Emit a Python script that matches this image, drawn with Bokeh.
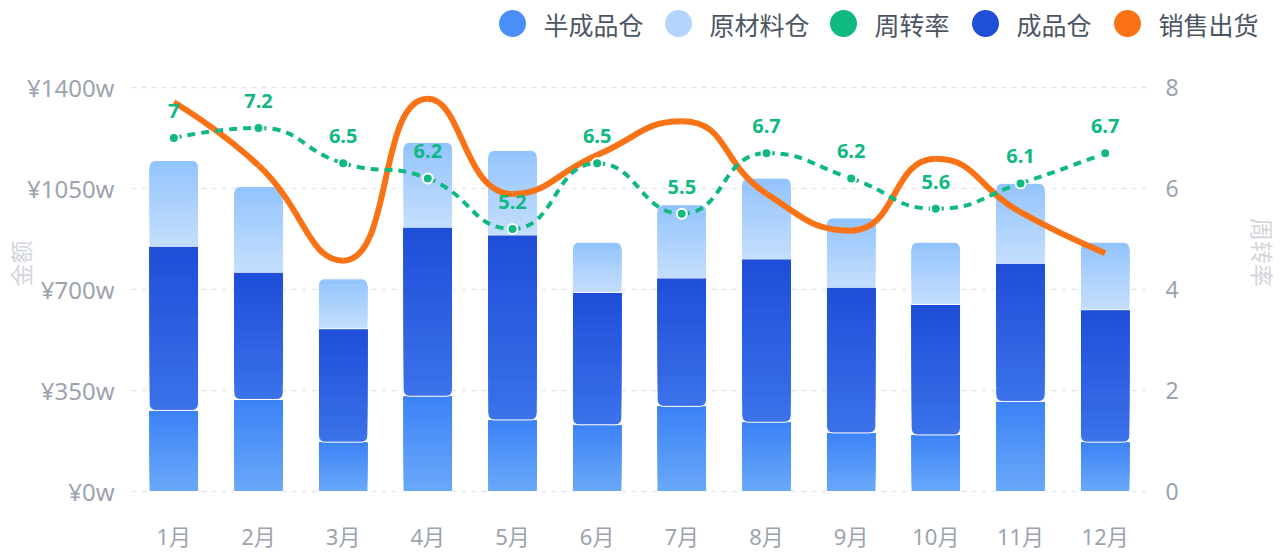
import math
import numpy as np
from bokeh.plotting import figure
from bokeh.models import Range1d, LinearAxis, FixedTicker, ColumnDataSource
from bokeh.embed import file_html
from bokeh.resources import INLINE
from bokeh.core.properties import value

# ---------------- data ----------------
months = ["1月", "2月", "3月", "4月", "5月", "6月", "7月", "8月", "9月", "10月", "11月", "12月"]
semi = [281, 319, 171, 330, 248, 231, 295, 240, 203, 196, 312, 171]        # 半成品仓
finished = [569, 441, 393, 586, 641, 459, 445, 566, 505, 452, 479, 459]    # 成品仓
raw = [297, 297, 173, 294, 293, 174, 254, 280, 240, 216, 277, 234]         # 原材料仓
turnover = [7, 7.2, 6.5, 6.2, 5.2, 6.5, 5.5, 6.7, 6.2, 5.6, 6.1, 6.7]      # 周转率
sales = [1349, 1130, 800, 1361, 1031, 1166, 1283, 1032, 904, 1153, 968, 826]  # 销售出货
left_ticks = [0, 350, 700, 1050, 1400]
right_ticks = [0, 2, 4, 6, 8]
legend_names = ["半成品仓", "原材料仓", "周转率", "成品仓", "销售出货"]
legend_colors = ["#4a8ff7", "#b3d4fd", "#10b981", "#1f4fd8", "#f97316"]

FONT = "'Noto Sans', 'Noto Sans CJK SC'"
CJK = "'Noto Sans CJK SC'"

# ---------------- geometry (figure pixels) ----------------
W, H = 1284, 555
PLOT_L, PLOT_R = 131, 1147      # bar area left/right edges (px)
Y0_PX, YTOP_PX = 491, 87        # value 0 and top tick (px from top)
NCAT = len(months)
kx = (PLOT_R - PLOT_L) / NCAT
ky = (Y0_PX - YTOP_PX) / left_ticks[-1]
kr = (Y0_PX - YTOP_PX) / right_ticks[-1]

x_start = -0.5 - PLOT_L / kx
x_end = NCAT - 0.5 + (W - PLOT_R) / kx
y_start = -(H - Y0_PX) / ky
y_end = left_ticks[-1] + YTOP_PX / ky
r_start = -(H - Y0_PX) / kr
r_end = right_ticks[-1] + YTOP_PX / kr

def px_x(px):
    return x_start + px / kx

def px_y(py):
    return y_end - py / ky

x = np.arange(NCAT)

def hex2rgb(h):
    h = h.lstrip("#")
    return [int(h[i:i + 2], 16) for i in (0, 2, 4)]

def mix(c0, c1, t):
    a, b = hex2rgb(c0), hex2rgb(c1)
    return "#%02x%02x%02x" % tuple(int(round(a[i] + (b[i] - a[i]) * t)) for i in range(3))

def smooth_bezier(xs, ys, sx, sy, smooth=0.5):
    P = [(xs[i] * sx, ys[i] * sy) for i in range(len(xs))]
    n = len(P)
    out = {k: [] for k in ["x0", "y0", "x1", "y1", "cx0", "cy0", "cx1", "cy1"]}
    cpx0, cpy0 = P[0]
    for i in range(1, n):
        px, py = P[i - 1]
        xx, yy = P[i]
        if i == n - 1:
            cpx1, cpy1 = xx, yy
            ncx, ncy = xx, yy
        else:
            nx, ny = P[i + 1]
            vx, vy = nx - px, ny - py
            lp = math.hypot(xx - px, yy - py)
            ln = math.hypot(nx - xx, ny - yy)
            r = ln / (ln + lp)
            ncx = xx + vx * smooth * r
            ncy = yy + vy * smooth * r
            ncx = min(ncx, max(nx, xx)); ncy = min(ncy, max(ny, yy))
            ncx = max(ncx, min(nx, xx)); ncy = max(ncy, min(ny, yy))
            vx, vy = ncx - xx, ncy - yy
            cpx1 = xx - vx * lp / ln
            cpy1 = yy - vy * lp / ln
            cpx1 = min(cpx1, max(px, xx)); cpy1 = min(cpy1, max(py, yy))
            cpx1 = max(cpx1, min(px, xx)); cpy1 = max(cpy1, min(py, yy))
            vx, vy = xx - cpx1, yy - cpy1
            ncx = xx + vx * ln / lp
            ncy = yy + vy * ln / lp
        out["x0"].append(px / sx); out["y0"].append(py / sy)
        out["x1"].append(xx / sx); out["y1"].append(yy / sy)
        out["cx0"].append(cpx0 / sx); out["cy0"].append(cpy0 / sy)
        out["cx1"].append(cpx1 / sx); out["cy1"].append(cpy1 / sy)
        cpx0, cpy0 = ncx, ncy
    return out

# ---------------- figure ----------------
p = figure(width=W, height=H, x_range=Range1d(x_start, x_end), y_range=Range1d(y_start, y_end),
           x_axis_location=None, y_axis_location=None,
           toolbar_location=None, output_backend="svg", min_border=0,
           outline_line_color=None, background_fill_color="white", border_fill_color="white")
p.extra_y_ranges = {"rate": Range1d(r_start, r_end)}
p.grid.visible = False

def style_axis(ax, size, color, standoff):
    ax.axis_line_color = None
    ax.major_tick_line_color = None
    ax.minor_tick_line_color = None
    ax.major_label_standoff = standoff
    ax.major_label_text_font_size = size
    ax.major_label_text_color = color
    ax.major_label_text_font = FONT

xa = LinearAxis(fixed_location=0, ticker=FixedTicker(ticks=list(range(NCAT))))
xa.major_label_overrides = {i: m for i, m in enumerate(months)}
style_axis(xa, "22px", "#9ca3af", 23)
p.add_layout(xa, "below")

ya = LinearAxis(fixed_location=-0.5, ticker=FixedTicker(ticks=left_ticks))
ya.major_label_overrides = {t: "¥%dw" % t for t in left_ticks}
style_axis(ya, "24px", "#9ca3af", 11)
p.add_layout(ya, "left")

ra = LinearAxis(fixed_location=NCAT - 0.5, y_range_name="rate", ticker=FixedTicker(ticks=right_ticks))
style_axis(ra, "23px", "#9ca3af", 12)
p.add_layout(ra, "right")

# dashed grid lines across the bar area, at the left ticks
p.segment(x0=[-0.5] * len(left_ticks), x1=[NCAT - 0.5] * len(left_ticks), y0=left_ticks, y1=left_ticks,
          line_color="#e5e7eb", line_dash="5 5", line_width=1.3)

# ---------------- stacked bars with gradients ----------------
BW = 0.58
R_PX = 6
NB = 16
semi_a = np.array(semi, float)
fin_a = np.array(finished, float)
raw_a = np.array(raw, float)
b_semi, t_semi = np.zeros(NCAT), semi_a
b_fin, t_fin = semi_a, semi_a + fin_a
b_raw, t_raw = semi_a + fin_a, semi_a + fin_a + raw_a

def draw_segment(bottoms, tops, c_top, c_bot, round_end):
    kw = {}
    if round_end == "top":
        kw["border_radius"] = (R_PX, R_PX, 0, 0)
        base_col = c_top
    elif round_end == "bottom":
        kw["border_radius"] = (0, 0, R_PX, R_PX)
        base_col = c_bot
    else:
        base_col = c_top
    p.vbar(x=x, width=BW, bottom=bottoms, top=tops, fill_color=base_col,
           line_color="white", line_width=1, **kw)
    r_data = (R_PX + 1) / ky
    gb = np.array(bottoms, float) + (r_data if round_end == "bottom" else 0.5 / ky)
    gt = np.array(tops, float) - (r_data if round_end == "top" else 0.5 / ky)
    xs, bs, ts, cs = [], [], [], []
    for k in range(NB):
        for i in range(NCAT):
            f0 = k / NB
            f1 = (k + 1) / NB
            xs.append(x[i])
            bs.append(gb[i] + (gt[i] - gb[i]) * f0)
            ts.append(gt[i])
            mid = (gb[i] + (gt[i] - gb[i]) * (f0 + f1) / 2 - bottoms[i]) / (tops[i] - bottoms[i])
            cs.append(mix(c_bot, c_top, mid))
    src = ColumnDataSource(dict(x=xs, b=bs, t=ts, c=cs))
    p.vbar(x="x", width=BW - 0.012, bottom="b", top="t", fill_color="c", line_color=None, source=src)

draw_segment(b_semi, t_semi, "#3b82f6", "#6aa9f9", None)
draw_segment(b_fin, t_fin, "#1e4dd8", "#3b72e9", "bottom")
draw_segment(b_raw, t_raw, "#93c4fd", "#c4defd", "top")

# ---------------- lines ----------------
sb = smooth_bezier(list(x), sales, kx, ky)
p.bezier(x0=sb["x0"], y0=sb["y0"], x1=sb["x1"], y1=sb["y1"],
         cx0=sb["cx0"], cy0=sb["cy0"], cx1=sb["cx1"], cy1=sb["cy1"],
         line_color="#f97316", line_width=6)

tb = smooth_bezier(list(x), turnover, kx, kr)
p.bezier(x0=tb["x0"], y0=tb["y0"], x1=tb["x1"], y1=tb["y1"],
         cx0=tb["cx0"], cy0=tb["cy0"], cx1=tb["cx1"], cy1=tb["cy1"],
         line_color="#10b981", line_width=4, line_dash="8 6", y_range_name="rate")
p.scatter(x=x, y=turnover, size=10, marker="circle", fill_color="#10b981",
          line_color="white", line_width=2, y_range_name="rate")
p.text(x=x, y=turnover, text=[("%g" % v) for v in turnover], y_range_name="rate",
       text_align="center", text_baseline="middle", y_offset=-27,
       text_font_size="20px", text_font_style="bold", text_color="#10b981",
       text_font=value(FONT))

# ---------------- axis titles ----------------
p.text(x=[px_x(19)], y=[px_y(263)], text=["金额"], angle=math.pi / 2,
       text_align="center", text_baseline="middle", text_font_size="23px",
       text_color="#d1d5db", text_font=value(CJK))
p.text(x=[px_x(1262)], y=[px_y(252)], text=["周转率"], angle=-math.pi / 2,
       text_align="center", text_baseline="middle", text_font_size="23px",
       text_color="#d1d5db", text_font=value(CJK))

# ---------------- legend ----------------
legend_cx = [512, 678, 843, 985, 1127]
LEG_Y = 23
p.scatter(x=[px_x(c) for c in legend_cx], y=[px_y(LEG_Y)] * len(legend_cx), size=27, marker="circle",
          fill_color=legend_colors, line_color=None)
p.text(x=[px_x(c + 31) for c in legend_cx], y=[px_y(LEG_Y)] * len(legend_cx), text=legend_names,
       text_baseline="middle", text_align="left", text_font_size="25px",
       text_color="#4b5563", text_font=value(CJK))

open("out.html", "w").write(file_html(p, INLINE))
